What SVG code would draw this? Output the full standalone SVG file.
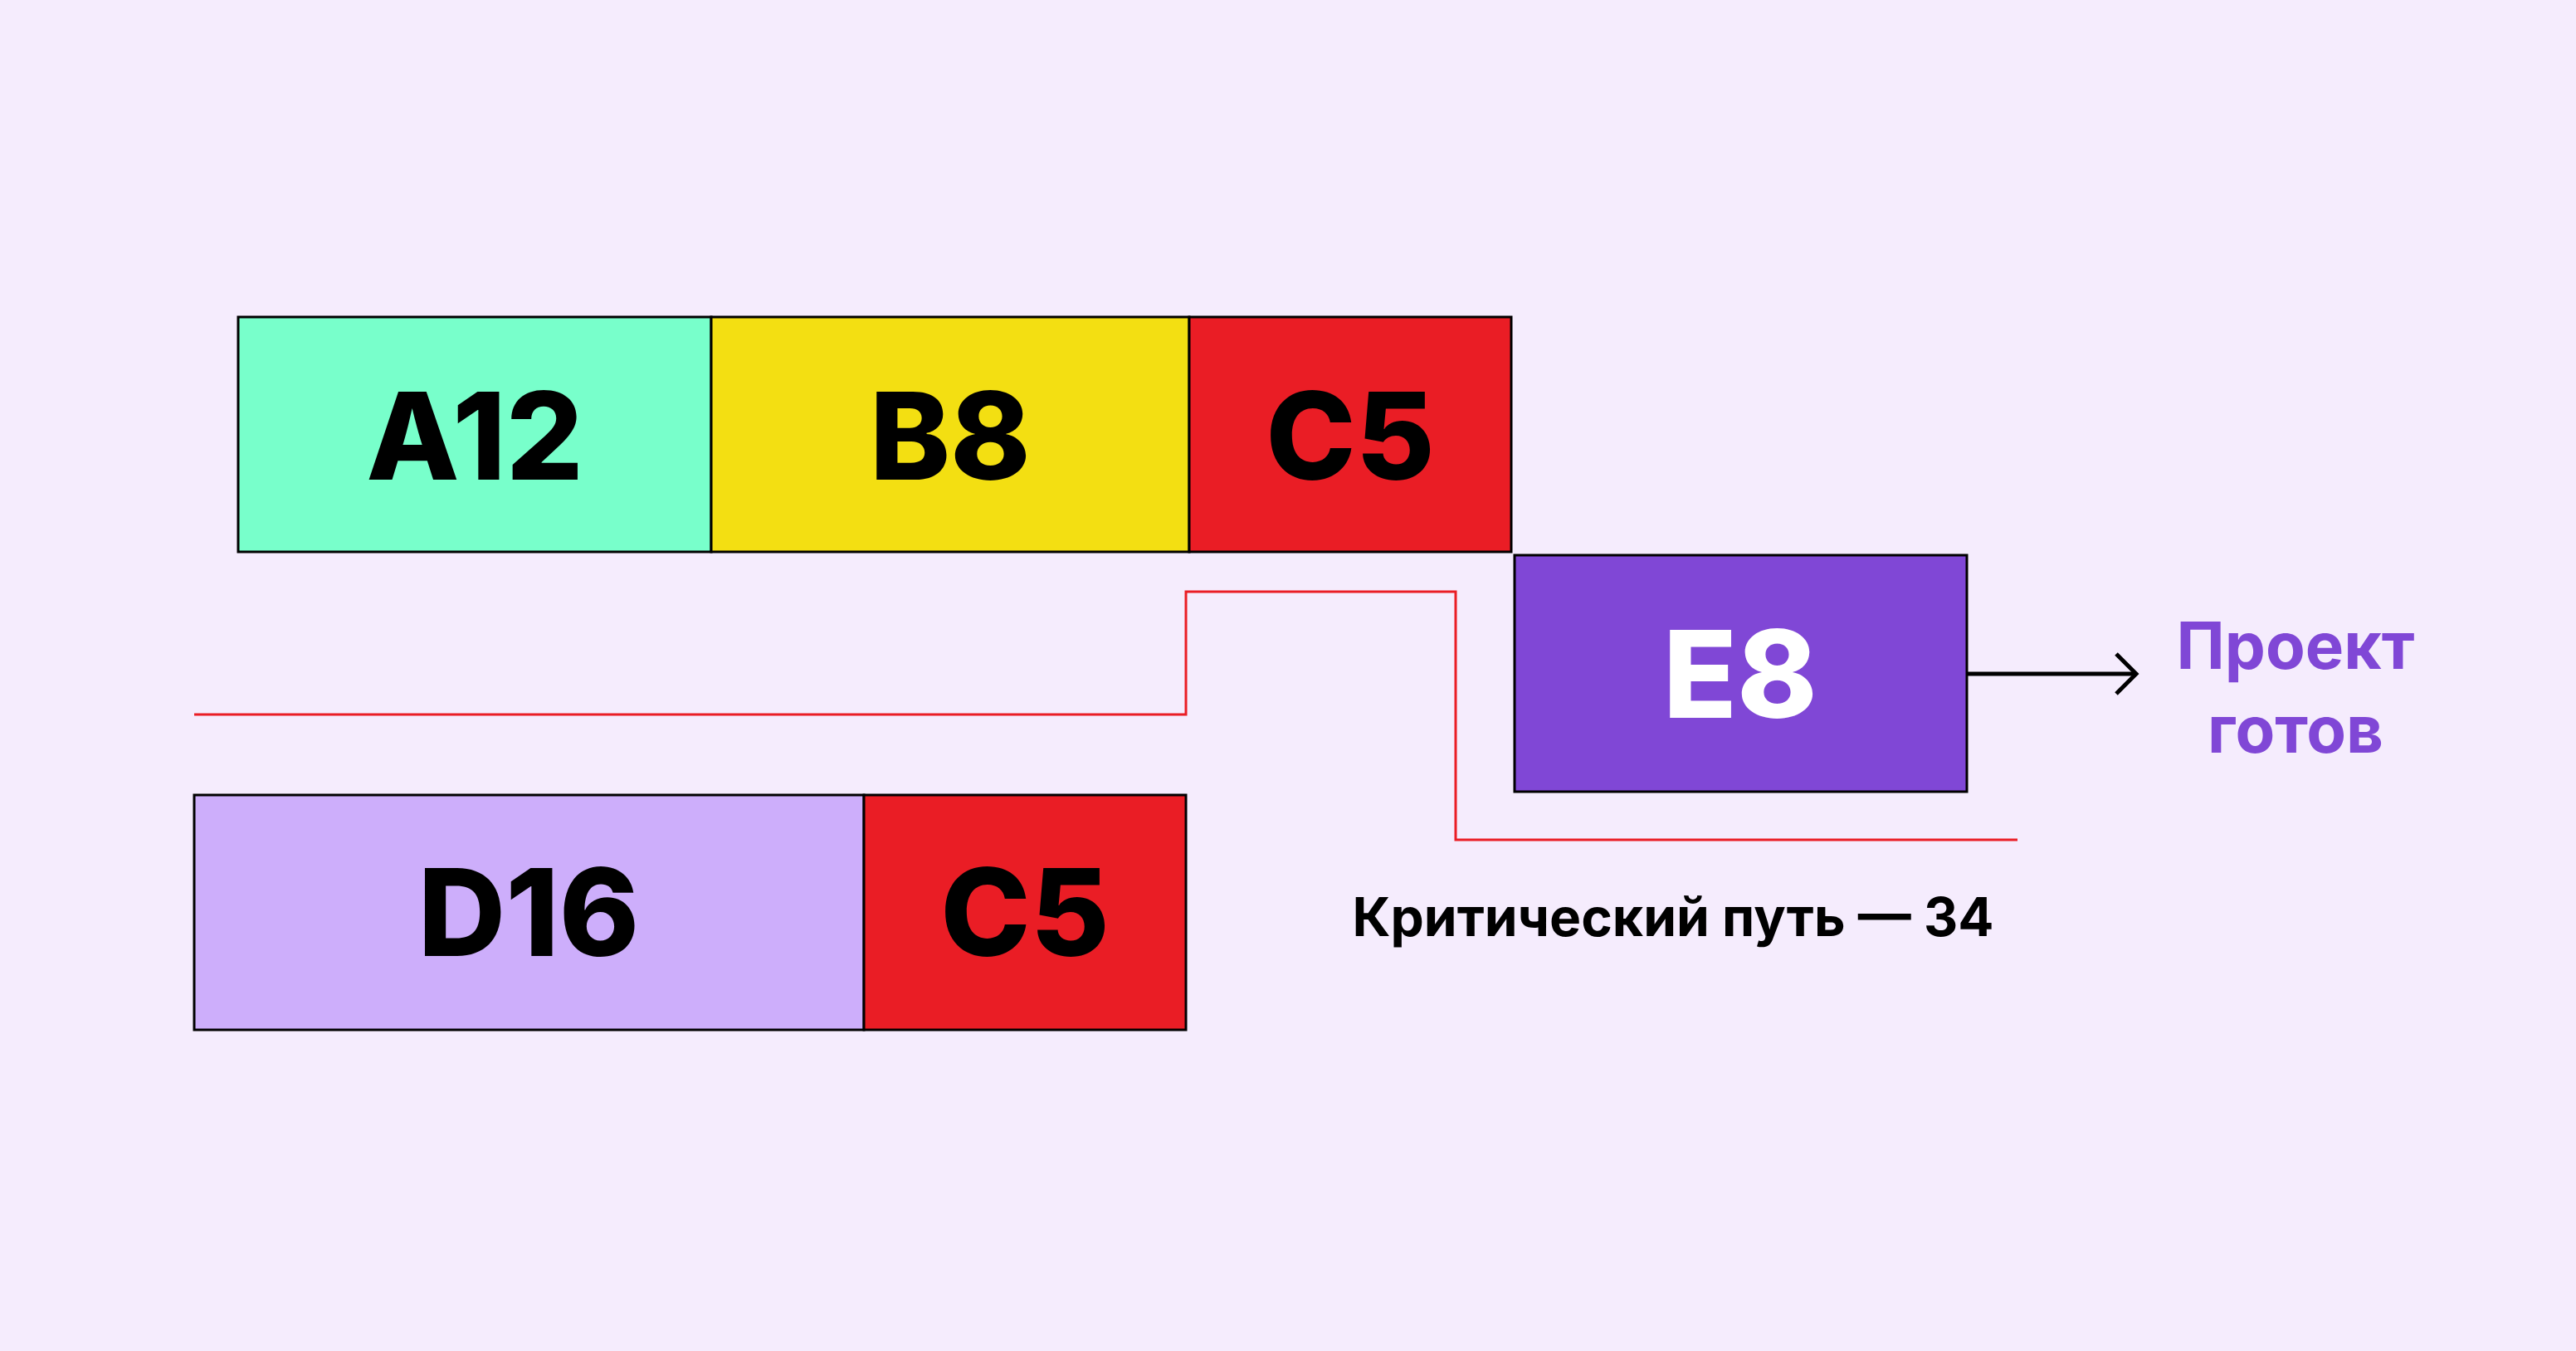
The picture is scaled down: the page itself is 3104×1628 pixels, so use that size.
<svg xmlns="http://www.w3.org/2000/svg" width="3104" height="1628" viewBox="0 0 3104 1628">
<style>
.box{stroke:#000;stroke-width:3}
.lbl{font-family:Inter,"Liberation Sans",sans-serif;font-weight:800;font-size:146px;text-anchor:middle}
.txt{font-family:Inter,"Liberation Sans",sans-serif;font-weight:700}
</style>
<rect width="3104" height="1628" fill="#F5ECFD"/>
<g id="connectors">
<polyline points="234,861 1429,861 1429,713 1754,713 1754,1012 2431,1012" fill="none" stroke="#EA1D25" stroke-width="3"/>
<line x1="2370" y1="812" x2="2572" y2="812" stroke="#000" stroke-width="5"/>
<polyline points="2550,788 2574,812 2550,836" fill="none" stroke="#000" stroke-width="5"/>
</g>
<g id="A12"><rect class="box" x="287" y="382" width="570" height="283" fill="#78FFCB"/><text class="lbl" x="572" y="578">A12</text></g>
<g id="B8"><rect class="box" x="857" y="382" width="576" height="283" fill="#F3DF12"/><text class="lbl" x="1145" y="578">B8</text></g>
<g id="C5a"><rect class="box" x="1433" y="382" width="388" height="283" fill="#EA1D25"/><text class="lbl" x="1627" y="578">C5</text></g>
<g id="E8"><rect class="box" x="1825" y="669" width="545" height="285" fill="#8047D6"/><text class="lbl" x="2097" y="865" fill="#fff">E8</text></g>
<g id="D16"><rect class="box" x="234" y="958" width="807" height="283" fill="#CDAEFB"/><text class="lbl" x="637" y="1152">D16</text></g>
<g id="C5b"><rect class="box" x="1041" y="958" width="388" height="283" fill="#EA1D25"/><text class="lbl" x="1235" y="1152">C5</text></g>
<g id="done"><text class="txt" x="2766" y="806" font-size="78" fill="#8047D6" text-anchor="middle">Проект</text><text class="txt" x="2766" y="907" font-size="78" fill="#8047D6" text-anchor="middle">готов</text></g>
<g id="crit"><text class="txt" x="2016" y="1128" font-size="64" text-anchor="middle">Критический путь — 34</text></g>
</svg>
